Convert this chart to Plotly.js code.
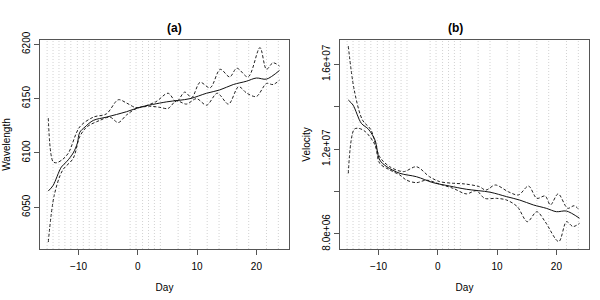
<!DOCTYPE html>
<html>
<head>
<meta charset="utf-8">
<script src="https://cdn.plot.ly/plotly-3.0.1.min.js"></script>
<style>html,body{margin:0;padding:0;background:#fff}#chart{width:600px;height:300px}</style>
</head>
<body>
<div id="chart"></div>
<script>
// Observation days (vertical dotted lines)
const obsDays = [-15.3,-14.3,-13.3,-12.3,-11.3,-10.2,-9.2,-8.2,-7.2,-6.2,-5.2,-1.3,-0.3,0.8,1.8,2.8,3.8,6.8,8.8,11.7,13.7,16.7,18.7,21.7,23.7];

// Panel (a): Wavelength
const waveMeanDay = [-15.1,-14.3,-12.9,-12.0,-10.9,-10.2,-9.8,-8.9,-7.5,-5.3,-1.9,0.3,4.8,8.8,11.6,13.8,16.1,18.3,20.0,21.7,23.9];
const waveMean    = [6065,6070,6087,6092,6100,6109,6119,6124,6130,6133,6138,6142,6147,6150,6155,6158,6163,6166,6169,6168,6176];
const waveUpDay   = [-15.1,-14.3,-13.7,-12.7,-11.7,-9.8,-7.5,-5.3,-3.3,-1.9,-0.5,0.3,3.0,5.1,6.5,7.9,9.1,10.5,12.2,13.9,15.5,16.7,18.6,20.6,21.7,22.8,23.9];
const waveUp      = [6132,6092,6091,6094,6100,6124,6133,6136,6149,6146,6142,6142,6147,6155,6147,6156,6151,6165,6160,6177,6170,6178,6170,6197,6177,6183,6180];
const waveLoDay   = [-15.1,-14.1,-12.7,-10.9,-9.8,-8.6,-6.4,-4.7,-3.3,-1.9,-0.2,2.0,3.7,5.1,6.5,8.2,9.9,11.6,13.4,15.3,17.0,18.4,20.0,21.7,22.8,23.9];
const waveLo      = [6018,6061,6084,6095,6115,6124,6130,6133,6128,6135,6141,6143,6142,6141,6148,6145,6150,6144,6155,6145,6161,6155,6152,6164,6163,6167];

// Panel (b): Velocity
const velMeanDay = [-15.1,-14.3,-12.9,-11.7,-10.6,-9.8,-8.6,-6.4,-3.6,-0.8,2.0,4.8,8.8,11.6,13.8,16.1,18.3,20.0,21.7,23.9];
const velMean    = [1.432e7,1.408e7,1.322e7,1.294e7,1.243e7,1.149e7,1.117e7,1.086e7,1.070e7,1.042e7,1.026e7,1.011e7,9.97e6,9.76e6,9.60e6,9.37e6,9.21e6,9.05e6,9.08e6,8.74e6];
const velUpDay   = [-15.1,-14.1,-12.7,-11.3,-9.8,-8.1,-5.8,-3.6,-1.4,0.3,2.6,4.5,7.0,8.1,9.7,11.9,13.6,15.3,16.7,18.1,19.0,20.3,21.9,23.0,23.9];
const velUp      = [1.686e7,1.479e7,1.337e7,1.292e7,1.164e7,1.117e7,1.094e7,1.117e7,1.070e7,1.047e7,1.039e7,1.036e7,1.023e7,1.007e7,1.031e7,9.99e6,9.84e6,1.026e7,9.68e6,9.79e6,9.37e6,9.89e6,9.21e6,9.33e6,9.12e6];
const velLoDay   = [-15.1,-14.1,-13.3,-12.2,-10.6,-9.8,-8.1,-6.4,-5.3,-3.6,-1.9,0.3,2.6,4.8,6.5,7.9,9.9,11.6,13.4,15.1,16.7,18.1,20.4,21.7,22.8,23.9];
const velLo      = [1.086e7,1.294e7,1.298e7,1.282e7,1.220e7,1.133e7,1.102e7,1.078e7,1.054e7,1.042e7,1.054e7,1.035e7,1.015e7,9.89e6,1.004e7,9.68e6,9.68e6,9.60e6,9.29e6,8.58e6,9.05e6,8.58e6,7.64e6,8.58e6,8.35e6,8.50e6];

const waveRange = [6011.6, 6204];
const velRange  = [7.29e6, 1.715e7];
const xRange    = [-16.5, 25.5];

function vlines(xa, ya, rng) {
  const x = [], y = [];
  obsDays.forEach(d => { x.push(d, d, null); y.push(rng[0], rng[1], null); });
  return {x, y, xaxis: xa, yaxis: ya, mode: 'lines', hoverinfo: 'skip', showlegend: false,
          line: {color: '#d2d2d2', width: 1, dash: '1px,2px'}};
}
function curve(x, y, xa, ya, dashed) {
  return {x, y, xaxis: xa, yaxis: ya, mode: 'lines', showlegend: false,
          line: {color: dashed ? '#222' : '#111', width: 1, shape: 'spline', smoothing: 0.9, dash: dashed ? '3px,2px' : 'solid'}};
}

const traces = [
  vlines('x', 'y', waveRange),
  curve(waveUpDay, waveUp, 'x', 'y', true),
  curve(waveLoDay, waveLo, 'x', 'y', true),
  curve(waveMeanDay, waveMean, 'x', 'y', false),
  vlines('x2', 'y2', velRange),
  curve(velUpDay, velUp, 'x2', 'y2', true),
  curve(velLoDay, velLo, 'x2', 'y2', true),
  curve(velMeanDay, velMean, 'x2', 'y2', false)
];

const font = {family: 'Liberation Sans, Arial, sans-serif', size: 10, color: '#000'};
const axBase = {showgrid: false, zeroline: false, showline: true, linecolor: '#555', linewidth: 1,
                mirror: true, ticks: 'outside', ticklen: 5, tickcolor: '#555', tickfont: font};

const layout = {
  width: 600, height: 300,
  margin: {l: 0, r: 0, t: 0, b: 0},
  paper_bgcolor: '#fff', plot_bgcolor: '#fff',
  font: font,
  xaxis: Object.assign({}, axBase, {domain: [40/600, 289/600], range: xRange, tickvals: [-10, 0, 10, 20],
         anchor: 'y', ticklabelstandoff: 3, title: {text: 'Day', font: font, standoff: 12}}),
  yaxis: Object.assign({}, axBase, {domain: [1 - 249/300, 1 - 40/300], range: waveRange,
         tickvals: [6050, 6100, 6150, 6200], tickangle: -90, anchor: 'x',
         title: {text: 'Wavelength', font: font, standoff: 8}}),
  xaxis2: Object.assign({}, axBase, {domain: [340/600, 589/600], range: xRange, tickvals: [-10, 0, 10, 20],
         anchor: 'y2', ticklabelstandoff: 3, title: {text: 'Day', font: font, standoff: 12}}),
  yaxis2: Object.assign({}, axBase, {domain: [1 - 249/300, 1 - 40/300], range: velRange,
         tickvals: [8e6, 1e7, 1.2e7, 1.4e7, 1.6e7], ticktext: ['8.0e+06', '', '1.2e+07', '', '1.6e+07'],
         tickangle: -90, anchor: 'x2', title: {text: 'Velocity', font: font, standoff: 8}}),
  annotations: [
    {text: '<b>(a)</b>', x: (40 + 289) / 1200, y: 1 - 19/300, xref: 'paper', yref: 'paper', showarrow: false,
     font: {family: font.family, size: 12, color: '#000'}},
    {text: '<b>(b)</b>', x: (340 + 589) / 1200, y: 1 - 19/300, xref: 'paper', yref: 'paper', showarrow: false,
     font: {family: font.family, size: 12, color: '#000'}}
  ]
};

Plotly.newPlot('chart', traces, layout, {staticPlot: true, displayModeBar: false});
</script>
</body>
</html>
